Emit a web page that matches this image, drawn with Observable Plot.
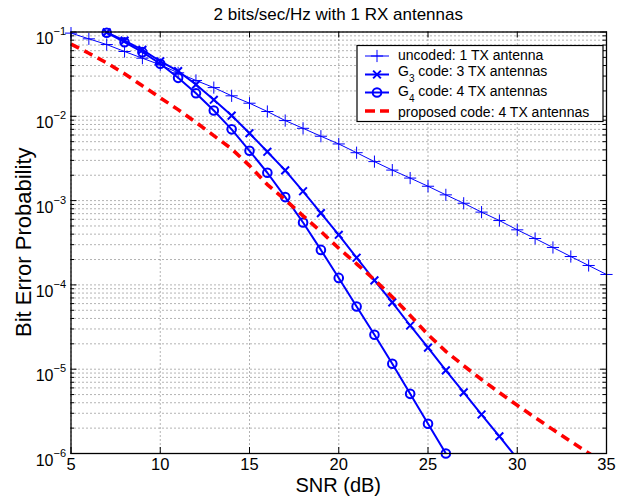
<!DOCTYPE html>
<html><head><meta charset="utf-8">
<script src="https://cdn.jsdelivr.net/npm/d3@7"></script>
<script src="https://cdn.jsdelivr.net/npm/@observablehq/plot@0.6"></script>
<style>
html,body{margin:0;padding:0;background:#fff;}
#chart{width:627px;height:496px;}
</style></head><body><div id="chart"></div>
<script>
// ---- data ----
const snrUncoded = [5,6,7,8,9,10,11,12,13,14,15,16,17,18,19,20,21,22,23,24,25,26,27,28,29,30,31,32,33,34,35];
const berUncoded = [0.097,0.083,0.071,0.0587,0.0489,0.0408,0.0328,0.0266,0.0219,0.0175,0.0143,0.0114,0.0089,0.0072,0.0058,0.0047,0.0037,0.0029,0.0023,0.00185,0.00148,0.00117,0.00093,0.00073,0.00058,0.00045,0.000355,0.000278,0.000217,0.00017,0.000133];

const snrG3 = [7,8,9,10,11,12,13,14,15,16,17,18,19,20,21,22,23,24,25,26,27,28,29,30];
const berG3 = [0.099,0.079,0.0615,0.045,0.0343,0.0238,0.0157,0.0102,0.0063,0.0038,0.00228,0.00129,0.00071,0.000393,0.00021,0.000113,6.2e-5,3.3e-5,1.8e-5,9.7e-6,5.3e-6,2.9e-6,1.6e-6,8.7e-7];

const snrG4 = [7,8,9,10,11,12,13,14,15,16,17,18,19,20,21,22,23,24,25,26];
const berG4 = [0.098,0.0757,0.0577,0.042,0.0286,0.0188,0.0117,0.007,0.0039,0.00214,0.0011,0.00055,0.00026,0.000121,5.55e-5,2.56e-5,1.16e-5,5.1e-6,2.25e-6,1.0e-6];

const snrProposed = [5,6,7,8,9,10,11,12,13,14,15,16,17,18,19,20,21,22,23,24,25,26,27,28,29,30,31,32,33,34,35];
const berProposed = [0.072,0.056,0.043,0.032,0.023,0.0166,0.012,0.0085,0.0059,0.0041,0.0026,0.00155,0.00102,0.00066,0.00043,0.000272,0.000178,0.000115,7.2e-5,4.35e-5,2.57e-5,1.63e-5,1.1e-5,7.55e-6,5.27e-6,3.73e-6,2.67e-6,1.92e-6,1.39e-6,1.01e-6,7.4e-7];

const xTicks = [5,10,15,20,25,30,35];
const yDecades = [1e-6,1e-5,1e-4,1e-3,1e-2,1e-1];
const yExponents = ["−6","−5","−4","−3","−2","−1"];
const minorMultipliers = [2,3,4,5,6,7,8,9];

const seriesNames = ["uncoded: 1 TX antenna","G|3| code: 3 TX antennas","G|4| code: 4 TX antennas","proposed code: 4 TX antennas"];
const titleText = "2 bits/sec/Hz with 1 RX antennas";
const xLabel = "SNR (dB)";
const yLabel = "Bit Error Probability";

// ---- build ----
const rows = (xs, ys) => xs.map((s, i) => ({snr: s, ber: ys[i]}));
const uncoded = rows(snrUncoded, berUncoded);
const g3 = rows(snrG3, berG3);
const g4 = rows(snrG4, berG4);
const proposed = rows(snrProposed, berProposed);
const yMinor = yDecades.slice(0, -1).flatMap(d => minorMultipliers.map(m => m * d));

const FONT = "'Liberation Sans', Arial, Helvetica, sans-serif";
const BLUE = "#0000ff", RED = "#ff0000";
const W = 627, H = 496;
const M = {left: 70.5, right: 21, top: 31.5, bottom: 43};
const FW = W - M.left - M.right, FH = H - M.top - M.bottom;
const gridStyle = {stroke: "#000", strokeOpacity: 0.6, strokeDasharray: "1,3", strokeWidth: 1};
const inRange = d => d.ber >= 1e-6;
const lineBase = {x: "snr", y: "ber", clip: true, strokeLinecap: "butt", strokeLinejoin: "miter"};

const plot = Plot.plot({
  width: W, height: H,
  marginLeft: M.left, marginRight: M.right, marginTop: M.top, marginBottom: M.bottom,
  style: {fontFamily: FONT, background: "white", color: "black", overflow: "visible"},
  x: {domain: [5, 35]},
  y: {type: "log", domain: [1e-6, 1e-1]},
  marks: [
    Plot.gridX(xTicks, gridStyle),
    Plot.gridY([...yDecades, ...yMinor], gridStyle),
    Plot.tickX(xTicks, {x: d => d, insetTop: FH - 6, stroke: "#000"}),
    Plot.tickX(xTicks, {x: d => d, insetBottom: FH - 6, stroke: "#000"}),
    Plot.tickY(yDecades, {y: d => d, insetRight: FW - 6, stroke: "#000"}),
    Plot.tickY(yDecades, {y: d => d, insetLeft: FW - 6, stroke: "#000"}),
    Plot.tickY(yMinor, {y: d => d, insetRight: FW - 3.5, stroke: "#000"}),
    Plot.tickY(yMinor, {y: d => d, insetLeft: FW - 3.5, stroke: "#000"}),

    Plot.line(uncoded, {...lineBase, stroke: BLUE, strokeWidth: 1}),
    Plot.dot(uncoded, {x: "snr", y: "ber", symbol: "plus", r: 4, stroke: BLUE, fill: "none", strokeWidth: 1, filter: inRange}),

    Plot.line(g3, {...lineBase, stroke: BLUE, strokeWidth: 2}),
    Plot.dot(g3, {x: "snr", y: "ber", symbol: "times", r: 3.6, stroke: BLUE, fill: "none", strokeWidth: 2, filter: inRange}),

    Plot.line(g4, {...lineBase, stroke: BLUE, strokeWidth: 2}),
    Plot.dot(g4, {x: "snr", y: "ber", symbol: "circle", r: 4.3, stroke: BLUE, fill: "none", strokeWidth: 2, filter: inRange}),

    Plot.line(proposed, {...lineBase, stroke: RED, strokeWidth: 3.6, strokeDasharray: "9,6"}),

    Plot.frame({stroke: "#000", strokeWidth: 1.3}),
    Plot.axisX(xTicks, {tickSize: 0, tickPadding: 5, fontSize: 16.5, label: null}),
    Plot.axisY(yDecades, {tickSize: 0, tickPadding: 5, fontSize: 16, label: null,
      tickFormat: d => yExponents[yDecades.indexOf(d)]})
  ]
});

document.getElementById("chart").appendChild(plot);
const svg = d3.select(plot.tagName.toLowerCase() === "svg" ? plot : plot.querySelector("svg"));

// superscript tick labels: 10^k
svg.selectAll('g[aria-label="y-axis tick label"] text').each(function() {
  const t = d3.select(this);
  const e = t.text();
  t.text(null).attr("dy", null);
  t.append("tspan").attr("dy", 7).text("10");
  t.append("tspan").attr("dy", -9).attr("font-size", 11).text(e);
});

// title and axis labels
svg.append("text").attr("x", M.left + FW / 2).attr("y", 20).attr("text-anchor", "middle")
  .attr("font-family", FONT).attr("font-size", 17).attr("fill", "#000").text(titleText);
svg.append("text").attr("x", M.left + FW / 2).attr("y", 491.5).attr("text-anchor", "middle")
  .attr("font-family", FONT).attr("font-size", 20).attr("fill", "#000").text(xLabel);
svg.append("text").attr("transform", `translate(31,${M.top + FH / 2}) rotate(-90)`).attr("text-anchor", "middle")
  .attr("font-family", FONT).attr("font-size", 22).attr("fill", "#000").text(yLabel);

// legend
const lg = svg.append("g").attr("font-family", FONT).attr("font-size", 14).attr("fill", "#000")
  .attr("text-anchor", "start");
lg.append("rect").attr("x", 357).attr("y", 45.5).attr("width", 246).attr("height", 76)
  .attr("fill", "white").attr("stroke", "#000").attr("stroke-width", 1.2);
const rowY = [56, 74.5, 92.5, 111];
const textBase = [60, 76.2, 96, 116.5];
const styles = [
  {w: 1, sym: d3.symbolPlus, size: Math.PI * 16, dash: null, color: BLUE},
  {w: 2, sym: d3.symbolTimes, size: Math.PI * 13, dash: null, color: BLUE},
  {w: 2, sym: d3.symbolCircle, size: Math.PI * 18.5, dash: null, color: BLUE},
  {w: 3.6, sym: null, dash: "10,5", color: RED}
];
seriesNames.forEach((name, i) => {
  const s = styles[i], y = rowY[i];
  lg.append("line").attr("x1", 365).attr("x2", 389).attr("y1", y).attr("y2", y)
    .attr("stroke", s.color).attr("stroke-width", s.w).attr("stroke-dasharray", s.dash);
  if (s.sym) lg.append("path").attr("transform", `translate(377,${y})`)
    .attr("d", d3.symbol(s.sym, s.size)()).attr("fill", "none").attr("stroke", s.color).attr("stroke-width", s.w);
  const t = lg.append("text").attr("x", 398).attr("y", textBase[i]);
  const parts = name.split("|");
  if (parts.length === 3) {
    t.append("tspan").text(parts[0]);
    t.append("tspan").attr("dy", 5.5).attr("font-size", 10).text(parts[1]);
    t.append("tspan").attr("dy", -5.5).text(parts[2]);
  } else t.text(name);
});
</script></body></html>
